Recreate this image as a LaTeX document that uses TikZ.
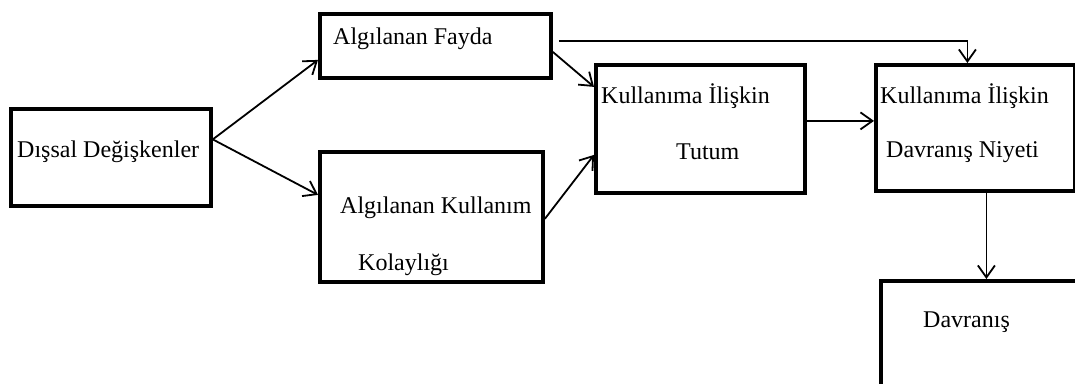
\documentclass[tikz,border=0pt]{standalone}
\usepackage{fontspec}
\setmainfont{Liberation Serif}
\usetikzlibrary{arrows.meta}
\begin{document}
\begin{tikzpicture}[x=1pt,y=-1pt,
  box/.style={draw,line width=3.8pt,inner sep=0pt,anchor=north west},
  lbl/.style={anchor=west,inner sep=0pt,font=\fontsize{24}{28}\selectfont},
  conn/.style={line width=1.8pt,-{Straight Barb[length=12pt,width=17pt,line width=1.8pt]}},
  thinconn/.style={conn,line width=1.2pt}]
  \useasboundingbox (0,0) rectangle (1075,383);
  \clip (0,0) rectangle (1075,383);
  % boxes
  \node[box,minimum width=200pt,minimum height=97pt]  (dis) at (9,107) {};
  \node[box,minimum width=231pt,minimum height=64pt]  (fay) at (318,12) {};
  \node[box,minimum width=223pt,minimum height=130pt] (kol) at (318,150) {};
  \node[box,minimum width=209pt,minimum height=128pt] (tut) at (594,63) {};
  \node[box,minimum width=199pt,minimum height=126pt] (niy) at (874,63) {};
  \node[box,minimum width=250pt,minimum height=150pt] (dav) at (879,279) {};
  % labels
  \node[lbl] (tdis)  at (17,152)  {Dışsal Değişkenler};
  \node[lbl] (tfay)  at (333,39)  {Algılanan Fayda};
  \node[lbl] (tkol1) at (340,208) {Algılanan Kullanım};
  \node[lbl] (tkol2) at (358,265) {Kolaylığı};
  \node[lbl] (ttut1) at (601,96)  {Kullanıma İlişkin};
  \node[lbl] (ttut2) at (676,152) {Tutum};
  \node[lbl] (tniy1) at (880,96)  {Kullanıma İlişkin};
  \node[lbl] (tniy2) at (886,152) {Davranış Niyeti};
  \node[lbl] (tdav)  at (923,322) {Davranış};
  % connectors
  \coordinate (ds) at ([yshift=18pt]dis.east);
  \draw[conn] (ds) -- ([yshift=-14pt]fay.west);
  \draw[conn] (ds) -- ([yshift=22pt]kol.west);
  \draw[conn] ([yshift=-6pt]fay.east) -- ([yshift=42pt]tut.west);
  \draw[conn] ([yshift=-2pt]kol.east) -- ([yshift=-26pt]tut.west);
  \coordinate (fr) at ([xshift=6pt,yshift=5pt]fay.east);
  \coordinate (nt) at ([xshift=-8pt]niy.north);
  \draw[thinconn] (fr) -| (nt);
  \coordinate (te) at ([yshift=8pt]tut.east);
  \draw[conn] (te) -- (te -| niy.west);
  \coordinate (nb) at ([xshift=11pt]niy.south);
  \draw[conn] (nb) -- (nb |- dav.north);
\end{tikzpicture}
\end{document}
